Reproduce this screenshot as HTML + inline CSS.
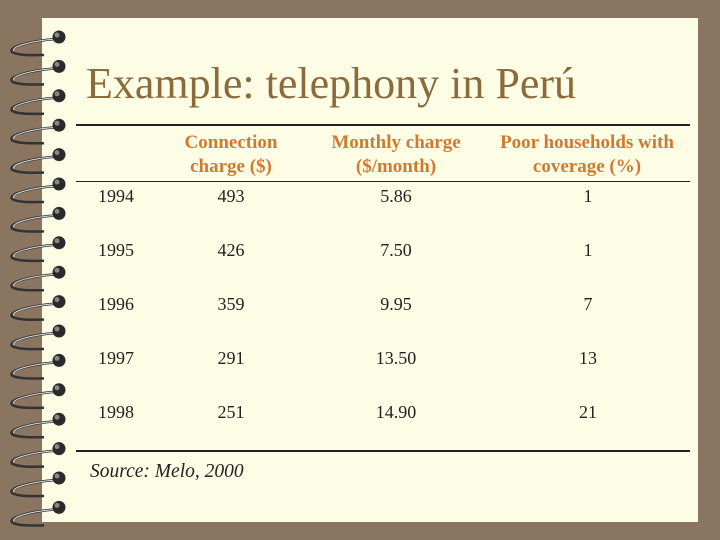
<!DOCTYPE html>
<html><head><meta charset="utf-8"><style>
body{margin:0;width:720px;height:540px;background:#8a7560;position:relative;overflow:hidden;font-family:"Liberation Serif",serif}
#page{position:absolute;left:42px;top:18px;width:656px;height:504px;background:#fdfde6}
.t{position:absolute;font-size:18px;color:#222;text-align:center;white-space:nowrap}
.h{position:absolute;font-size:19px;font-weight:bold;color:#d07a30;text-align:center;line-height:24px;white-space:nowrap}
</style></head><body>
<div id="page"></div>
<svg width="720" height="540" style="position:absolute;left:0;top:0">
<g id="rings"></g>
</svg>
<div style="position:absolute;left:86px;top:58px;font-size:44px;color:#8b6a3c;white-space:nowrap">Example: telephony in Perú</div>
<div style="position:absolute;left:76px;top:124px;width:614px;height:2px;background:#222"></div>
<div style="position:absolute;left:76px;top:181px;width:614px;height:1px;background:#222"></div>
<div style="position:absolute;left:76px;top:450px;width:614px;height:2px;background:#222"></div>
<div class="h" style="left:161px;top:131px;width:140px">Connection<br>charge ($)</div>
<div class="h" style="left:306px;top:131px;width:180px">Monthly charge<br>($/month)</div>
<div class="h" style="left:477px;top:131px;width:220px">Poor households with<br>coverage (%)</div>
<div id="rows"></div>
<div style="position:absolute;left:90px;top:461px;font-size:19.5px;font-style:italic;color:#222">Source: Melo, 2000</div>
<script>
const years=["1994","1995","1996","1997","1998"];
const conn=["493","426","359","291","251"];
const monthly=["5.86","7.50","9.95","13.50","14.90"];
const poor=["1","1","7","13","21"];
const rows=document.getElementById('rows');
years.forEach((y,i)=>{
  const top=186+i*54;
  [[y,98,58,'year'],[conn[i],191,80,'connection'],[monthly[i],356,80,'monthly'],[poor[i],548,80,'poor']].forEach(c=>{
    const d=document.createElement('div');
    d.className='t';
    
    
    d.style.left=c[1]+'px';d.style.top=top+'px';d.style.width=c[2]+'px';
    if(c[3]==='year')d.style.textAlign='left';
    d.textContent=c[0];
    rows.appendChild(d);
  });
});
const g=document.getElementById('rings');
let s='';
for(let i=0;i<17;i++){
  const y=37+i*29.4;
  s+=`<path d="M56 ${y+2} C30 ${y+4} 8 ${y+10} 12 ${y+15} C18 ${y+19} 36 ${y+18} 44 ${y+18}" fill="none" stroke="#333" stroke-width="2.5"/>`;
  s+=`<path d="M56 ${y+2} C30 ${y+4} 10 ${y+10} 14 ${y+14}" fill="none" stroke="#ddd" stroke-width="1"/>`;
  s+=`<circle cx="59" cy="${y}" r="6.5" fill="#2a2a2a"/><circle cx="57" cy="${y-2}" r="2.5" fill="#888"/>`;
}
g.innerHTML=s;
</script>
</body></html>
